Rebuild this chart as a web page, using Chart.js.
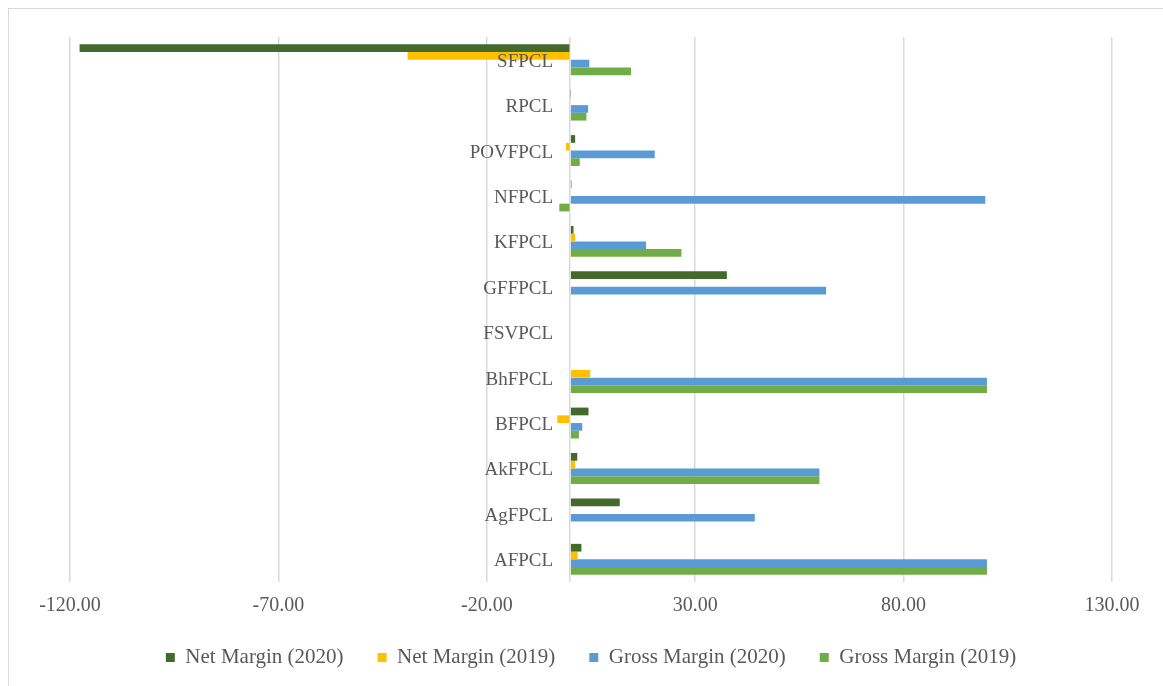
<!DOCTYPE html>
<html>
<head>
<meta charset="utf-8">
<title>Net and Gross Margin by FPC</title>
<script src="https://cdn.jsdelivr.net/npm/chart.js@4/dist/chart.umd.min.js"></script>
<style>
  html, body { margin: 0; padding: 0; background: #ffffff; }
  #wrap { position: relative; width: 1163px; height: 686px; overflow: hidden; }
  #frame { position: absolute; left: 8px; top: 8px; width: 1200px; height: 720px;
           border-left: 1px solid #d9d9d9; border-top: 1px solid #d9d9d9; }
  canvas { position: absolute; left: 0; top: 0; }
</style>
</head>
<body>
<div id="wrap">
  <div id="frame"></div>
  <canvas id="chart" width="1163" height="686"></canvas>
</div>
<script>
// Producer companies, listed top to bottom
const companies = ['SFPCL', 'RPCL', 'POVFPCL', 'NFPCL', 'KFPCL', 'GFFPCL',
                   'FSVPCL', 'BhFPCL', 'BFPCL', 'AkFPCL', 'AgFPCL', 'AFPCL'];

// Margins (%) per company
const netMargin2020   = [-117.7, 0.1, 1.2, 0.3, 0.8, 37.6, 0, 0, 4.4, 1.7, 11.9, 2.7];
const netMargin2019   = [-39.0, 0.2, -1.0, 0.2, 1.2, 0, 0, 4.8, -3.1, 1.2, 0, 1.8];
const grossMargin2020 = [4.6, 4.3, 20.3, 99.6, 18.2, 61.4, 0, 100, 2.9, 59.8, 44.3, 100];
const grossMargin2019 = [14.6, 3.9, 2.3, -2.6, 26.7, 0, 0, 100, 2.1, 59.8, 0, 100];

// Value axis: labelled ticks, plus the zero line the category axis sits on
const axisMin = -120;
const axisMax = 130;
const tickValues = [-120, -70, -20, 30, 80, 130];

const seriesNames = ['Net Margin (2020)', 'Net Margin (2019)', 'Gross Margin (2020)', 'Gross Margin (2019)'];
const seriesColors = ['#436a2b', '#ffc000', '#5b9bd5', '#70ad47'];

const textColor = '#595959';
const serif = '"Liberation Serif", "Times New Roman", serif';
const gridColor = '#d9d9d9';

const seriesValues = [netMargin2020, netMargin2019, grossMargin2020, grossMargin2019];

new Chart(document.getElementById('chart'), {
  type: 'bar',
  data: {
    labels: companies,
    datasets: seriesValues.map((values, i) => ({
      label: seriesNames[i],
      data: values,
      backgroundColor: seriesColors[i],
      borderWidth: 0,
      categoryPercentage: 0.68,
      barPercentage: 1.0
    }))
  },
  options: {
    indexAxis: 'y',
    responsive: false,
    animation: false,
    maintainAspectRatio: false,
    layout: { padding: { left: 70, right: 51, top: 37, bottom: 8 } },
    plugins: {
      tooltip: { enabled: false },
      legend: {
        position: 'bottom',
        labels: {
          boxWidth: 9,
          boxHeight: 9,
          padding: 34,
          color: textColor,
          font: { family: serif, size: 21 }
        }
      }
    },
    scales: {
      x: {
        type: 'linear',
        min: axisMin,
        max: axisMax,
        afterBuildTicks: (scale) => {
          scale.ticks = tickValues.concat([0]).map(v => ({ value: v }));
        },
        afterFit: (scale) => { scale.height = 31; },
        grid: { color: gridColor, lineWidth: 1.5, drawTicks: false },
        border: { display: false },
        ticks: {
          padding: 12,
          color: textColor,
          font: { family: serif, size: 20 },
          callback: (v) => (v === 0 ? '' : Number(v).toFixed(2))
        }
      },
      y: {
        type: 'category',
        // labels sit just left of the zero line
        position: { x: -4.1 },
        grid: { display: false, drawTicks: false },
        border: { display: false },
        ticks: {
          z: 1,
          labelOffset: 2,
          color: textColor,
          font: { family: serif, size: 19 }
        }
      }
    }
  }
});
</script>
</body>
</html>
